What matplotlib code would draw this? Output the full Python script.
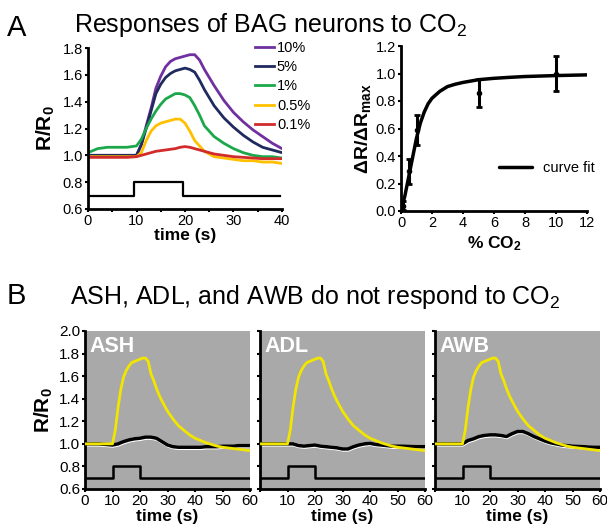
import matplotlib
matplotlib.use("Agg")
import matplotlib.pyplot as plt
import numpy as np

plt.rcParams['font.family'] = ['Liberation Sans', 'DejaVu Sans']
plt.rcParams['mathtext.fontset'] = 'custom'
plt.rcParams['mathtext.rm'] = 'Liberation Sans'
plt.rcParams['mathtext.it'] = 'Liberation Sans:italic'
plt.rcParams['mathtext.bf'] = 'Liberation Sans:bold'
plt.rcParams['mathtext.default'] = 'regular'

# ---- panel A: BAG responses (time in s, R/R0) ----
t_bag = [0, 2, 4, 6, 8, 10, 11, 12, 13, 14, 15, 16, 17, 18, 19, 20, 21, 22, 23,
         24, 25, 26, 28, 30, 32, 34, 36, 38, 40]
bag_10 = [1.00, 1.00, 1.00, 1.00, 1.00, 1.00, 1.08, 1.22, 1.35, 1.50, 1.59, 1.66, 1.70, 1.72, 1.73,
          1.74, 1.75, 1.75, 1.71, 1.64, 1.58, 1.52, 1.41, 1.32, 1.25, 1.19, 1.14, 1.09, 1.05]
bag_5 = [1.00, 1.00, 1.00, 1.00, 1.00, 1.00, 1.08, 1.20, 1.33, 1.46, 1.53, 1.58, 1.61, 1.63, 1.64,
         1.65, 1.64, 1.62, 1.56, 1.49, 1.43, 1.37, 1.28, 1.21, 1.15, 1.10, 1.06, 1.04, 1.02]
bag_1 = [1.02, 1.05, 1.06, 1.06, 1.06, 1.07, 1.12, 1.20, 1.27, 1.33, 1.38, 1.42, 1.44, 1.46, 1.46,
         1.45, 1.43, 1.37, 1.30, 1.22, 1.18, 1.14, 1.09, 1.05, 1.02, 1.00, 0.99, 0.99, 0.98]
bag_05 = [0.99, 0.99, 0.99, 0.99, 0.99, 0.99, 1.02, 1.11, 1.18, 1.22, 1.24, 1.25, 1.26, 1.27, 1.27,
          1.24, 1.18, 1.11, 1.07, 1.03, 1.01, 0.99, 0.98, 0.97, 0.96, 0.96, 0.95, 0.95, 0.94]
bag_01 = [0.985, 0.985, 0.985, 0.985, 0.985, 0.99, 1.00, 1.01, 1.02, 1.03, 1.035, 1.04, 1.045, 1.05, 1.06,
          1.065, 1.06, 1.05, 1.04, 1.03, 1.02, 1.01, 1.00, 0.99, 0.985, 0.98, 0.975, 0.975, 0.975]
bag_traces = [bag_10, bag_5, bag_1, bag_05, bag_01]
bag_labels = ['10%', '5%', '1%', '0.5%', '0.1%']
bag_colors = ['#7030a0', '#1f2a5e', '#1ca84a', '#ffc000', '#d22b2b']

stim_t_a = [0, 9.5, 9.5, 19.5, 19.5, 39.5]
stim_a = [0.7, 0.7, 0.8, 0.8, 0.7, 0.7]

# ---- panel A: dose response ----
co2 = [0.1, 0.5, 1, 5, 10]
dr_mean = [0.04, 0.29, 0.59, 0.86, 1.00]
dr_err = [0.03, 0.09, 0.11, 0.10, 0.13]
fit_x = [0, 0.25, 0.5, 0.75, 1, 1.25, 1.5, 1.75, 2, 2.5, 3, 3.5, 4, 5, 6, 7, 8, 10, 12]
fit_y = [0, 0.11, 0.25, 0.39, 0.53, 0.64, 0.72, 0.78, 0.82, 0.87, 0.905, 0.922, 0.935,
         0.955, 0.965, 0.972, 0.978, 0.985, 0.99]

# ---- panel B: ASH, ADL, AWB ----
t_yel = [0, 5, 10, 11, 12, 13, 14, 15, 16, 17, 18, 19, 20, 21, 22, 23, 24, 25, 26, 27, 28,
         30, 32, 34, 36, 38, 40, 42, 44, 46, 48, 50, 55, 60]
yellow = [1.00, 1.00, 1.00, 1.12, 1.32, 1.48, 1.59, 1.65, 1.69, 1.72, 1.73, 1.74, 1.75, 1.76, 1.76,
          1.73, 1.62, 1.56, 1.49, 1.43, 1.38, 1.29, 1.22, 1.16, 1.12, 1.08, 1.05, 1.03, 1.01,
          0.995, 0.98, 0.97, 0.955, 0.94]
t_blk = [0, 5, 10, 12, 14, 16, 18, 20, 22, 24, 26, 28, 30, 32, 34, 36, 38, 40, 42, 44, 46,
         48, 50, 52, 54, 56, 58, 60]
ash = [1.00, 1.00, 0.99, 1.00, 1.02, 1.035, 1.045, 1.05, 1.06, 1.06, 1.05, 1.02, 0.99, 0.975,
       0.97, 0.97, 0.97, 0.97, 0.97, 0.975, 0.975, 0.975, 0.98, 0.98, 0.98, 0.985, 0.985, 0.985]
adl = [1.00, 1.00, 1.00, 1.00, 0.985, 0.98, 0.985, 0.99, 0.98, 0.975, 0.97, 0.965, 0.955, 0.955,
       0.975, 0.99, 1.00, 1.005, 0.995, 0.99, 0.985, 0.98, 0.98, 0.98, 0.978, 0.976, 0.975, 0.975]
awb = [1.00, 1.00, 1.00, 1.03, 1.045, 1.065, 1.075, 1.08, 1.08, 1.075, 1.065, 1.09, 1.11, 1.11,
       1.09, 1.065, 1.045, 1.025, 1.01, 1.00, 0.99, 0.985, 0.98, 0.978, 0.975, 0.972, 0.97, 0.97]
sem = 0.015
neuron_names = ['ASH', 'ADL', 'AWB']
neuron_traces = [ash, adl, awb]

stim_t_b = [0, 10, 10, 20, 20, 60]
stim_b = [0.7, 0.7, 0.8, 0.8, 0.7, 0.7]

ticks_b = [0, 10, 20, 30, 40, 50, 60]
ticklabels_b_first = ['0', '10', '20', '30', '40', '50', '60']
ticklabels_b_rest = ['', '10', '20', '30', '40', '50', '60']


def style_axes(ax, size):
    for s in ['top', 'right']:
        ax.spines[s].set_visible(False)
    for s in ['left', 'bottom']:
        ax.spines[s].set_linewidth(2)
    ax.tick_params(direction='out', length=2.5, width=1.5, labelsize=size, pad=1)
    ax.tick_params(which='minor', direction='out', length=2.5, width=1.5)


fig = plt.figure(figsize=(6.07, 5.27), dpi=100)
W, H = 607.0, 527.0


def add_ax(x0, y0, x1, y1):
    return fig.add_axes([x0 / W, 1 - y1 / H, (x1 - x0) / W, (y1 - y0) / H])


# panel A left
ax1 = add_ax(88, 48, 282, 209)
for tr, lab, col in zip(bag_traces, bag_labels, bag_colors):
    ax1.plot(t_bag, tr, color=col, lw=2, label=lab)
ax1.plot(stim_t_a, stim_a, color='black', lw=1.6)
ax1.set_xlim(0, 40)
ax1.set_ylim(0.6, 1.8)
ax1.set_xticks([0, 10, 20, 30, 40])
ax1.set_xticks([5, 15, 25, 35], minor=True)
ax1.set_yticks(np.arange(0.6, 1.81, 0.2))
ax1.set_yticklabels(['0.6', '0.8', '1.0', '1.2', '1.4', '1.6', '1.8'])
style_axes(ax1, 10.5)
ax1.set_xlabel('time (s)', fontsize=12.5, fontweight='bold', labelpad=0)
ax1.set_ylabel(r'R/R$_\mathbf{0}$', fontsize=15, fontweight='bold', labelpad=4)
ax1.legend(loc='upper left', bbox_to_anchor=(255 / W, 1 - 41 / H), bbox_transform=fig.transFigure,
           frameon=False, fontsize=10.5, handlelength=1.3, handletextpad=0.2, labelspacing=0.36,
           borderpad=0, borderaxespad=0)

# panel A right
ax2 = add_ax(401, 46, 587, 211)
ax2.plot(fit_x, fit_y, color='black', lw=2.5, label='curve fit', solid_capstyle='round')
ax2.errorbar(co2, dr_mean, yerr=dr_err, fmt='o', color='black', ms=3, elinewidth=2.2,
             capsize=2.5, capthick=2)
ax2.set_xlim(0, 12)
ax2.set_ylim(0, 1.2)
ax2.set_xticks(np.arange(0, 13, 2))
ax2.set_yticks(np.arange(0, 1.21, 0.2))
ax2.set_yticklabels(['0.0', '0.2', '0.4', '0.6', '0.8', '1.0', '1.2'])
style_axes(ax2, 10.5)
ax2.set_xlabel(r'% CO$_\mathbf{2}$', fontsize=12.5, fontweight='bold', labelpad=3)
ax2.set_ylabel(r'ΔR/ΔR$_\mathbf{max}$', fontsize=14, fontweight='bold', labelpad=2)
ax2.legend(loc='center left', bbox_to_anchor=(0.49, 0.26), frameon=False, fontsize=10.5,
           handlelength=2.2, handletextpad=0.8, borderpad=0)

# panel B
lefts = [85, 260, 435]
for i, (name, tr, x0) in enumerate(zip(neuron_names, neuron_traces, lefts)):
    ax = add_ax(x0, 331, x0 + 165, 489)
    ax.set_facecolor('#a9a9a9')
    ax.plot(t_yel, yellow, color='#f2e500', lw=2, zorder=3)
    lo = [v - sem for v in tr]
    hi = [v + sem for v in tr]
    ax.fill_between(t_blk, lo, hi, color='white', lw=0.8, ec='white', zorder=2)
    ax.plot(t_blk, tr, color='black', lw=2.5, zorder=2.5)
    ax.plot(stim_t_b, stim_b, color='black', lw=1.8)
    ax.set_xlim(0, 60)
    ax.set_ylim(0.6, 2.0)
    ax.set_xticks(ticks_b)
    ax.set_yticks(np.arange(0.6, 2.01, 0.2))
    style_axes(ax, 11)
    if i == 0:
        ax.set_xticklabels(ticklabels_b_first)
        ax.set_yticklabels(['0.6', '0.8', '1.0', '1.2', '1.4', '1.6', '1.8', '2.0'])
        ax.set_ylabel(r'R/R$_\mathbf{0}$', fontsize=15, fontweight='bold', labelpad=3)
    else:
        ax.set_xticklabels(ticklabels_b_rest)
        ax.set_yticklabels([])
    ax.set_xlabel('time (s)', fontsize=12.5, fontweight='bold', labelpad=1)
    ax.text(0.025, 0.867, name, transform=ax.transAxes, color='white', fontsize=15.5,
            fontweight='bold', va='baseline', ha='left')

# panel letters and titles
fig.text(7 / W, 1 - 36 / H, 'A', fontsize=21, va='baseline')
fig.text(74 / W, 1 - 32 / H, r'Responses of BAG neurons to CO$_2$', fontsize=18, va='baseline')
fig.text(7 / W, 1 - 304 / H, 'B', fontsize=21, va='baseline')
fig.text(70 / W, 1 - 304 / H, r'ASH, ADL, and AWB do not respond to CO$_2$', fontsize=18,
         va='baseline')

fig.savefig('out.png', dpi=100)
